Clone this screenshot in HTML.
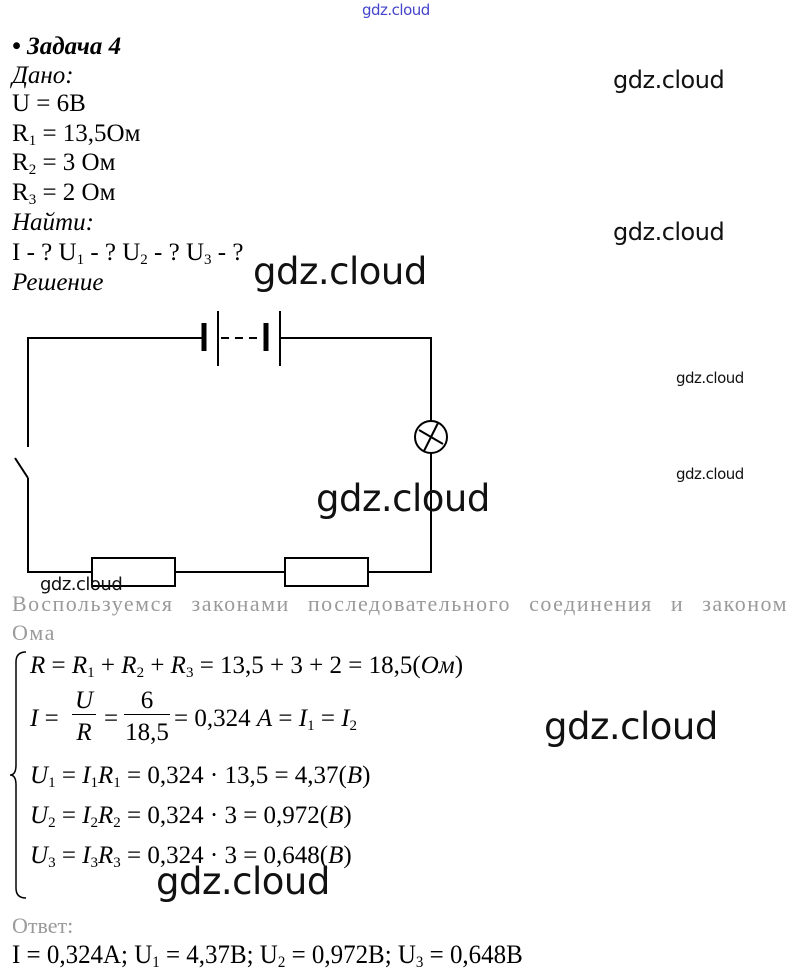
<!DOCTYPE html>
<html><head><meta charset="utf-8"><style>
body{margin:0;width:800px;height:979px;background:#fff;position:relative;overflow:hidden;font-family:"Liberation Serif",serif;color:#000}
.t{position:absolute;white-space:nowrap;line-height:30px;font-size:25px}
.w{position:absolute;white-space:nowrap;font-family:"DejaVu Sans","Liberation Sans",sans-serif;color:#111;line-height:1;letter-spacing:-0.5px}
.f{position:absolute;white-space:nowrap;font-size:25px;line-height:30px;font-style:normal}
i{font-style:italic}
sub{font-size:60%;vertical-align:-4px}
.g{color:#9a9a9a}
</style></head><body>
<div class="w" style="left:362px;top:3px;font-size:15px;color:#4444cc">gdz.cloud</div>
<div class="t" style="left:12px;top:32px;font-weight:bold;font-style:italic">• Задача 4</div>
<div class="t" style="left:12px;top:61px;font-style:italic">Дано:</div>
<div class="t" style="left:12px;top:89px">U = 6В</div>
<div class="t" style="left:12px;top:119px">R<sub>1</sub> = 13,5Ом</div>
<div class="t" style="left:12px;top:148px">R<sub>2</sub> = 3 Ом</div>
<div class="t" style="left:12px;top:178px">R<sub>3</sub> = 2 Ом</div>
<div class="t" style="left:12px;top:208px;font-style:italic">Найти:</div>
<div class="t" style="left:12px;top:238px">I - ? U<sub>1</sub> - ? U<sub>2</sub> - ? U<sub>3</sub> - ?</div>
<div class="t" style="left:12px;top:268px;font-style:italic">Решение</div>

<svg style="position:absolute;left:0;top:0" width="800" height="979">
<g stroke="#000" stroke-width="2" fill="none">
<polyline points="205,338 28,338 28,447"/>
<line x1="15" y1="458" x2="28" y2="478"/>
<polyline points="28,478 28,572 92,572"/>
<line x1="175" y1="572" x2="285" y2="572"/>
<polyline points="368,572 431,572 431,453"/>
<polyline points="431,421 431,338 280,338"/>
<rect x="92" y="558" width="83" height="28"/>
<rect x="285" y="558" width="83" height="28"/>
<circle cx="431" cy="437" r="16"/>
<line x1="419" y1="430" x2="443" y2="444"/>
<line x1="438" y1="423" x2="424" y2="451"/>
<line x1="218" y1="311" x2="218" y2="366"/>
<line x1="280" y1="311" x2="280" y2="366"/>
<line x1="221" y1="338" x2="262" y2="338" stroke-dasharray="8,6"/>
<line x1="204" y1="323" x2="204" y2="351" stroke-width="5"/>
<line x1="266" y1="323" x2="266" y2="351" stroke-width="5"/>
<path d="M26,652 Q16,652 16,662 L16,765 Q16,775 10,775 Q16,775 16,785 L16,888 Q16,898 26,898" stroke-width="1.5"/>
</g></svg>

<div class="w" style="left:40px;top:576px;font-size:18px">gdz.cloud</div>
<div class="t g" style="left:12px;top:589px;width:776px;text-align:justify;text-align-last:justify;font-size:22px;letter-spacing:1.5px">Воспользуемся законами последовательного соединения и законом</div>
<div class="t g" style="left:12px;top:618px;font-size:22px;letter-spacing:1.5px">Ома</div>

<div class="f" style="left:30px;top:651px"><i>R</i> = <i>R</i><sub>1</sub> + <i>R</i><sub>2</sub> + <i>R</i><sub>3</sub> = 13,5 + 3 + 2 = 18,5(<i>Ом</i>)</div>
<div class="f" style="left:30px;top:704px"><i>I</i> =</div>
<div class="f" style="left:72px;top:688px;width:24px;text-align:center;border-bottom:1.5px solid #000;line-height:26px"><i>U</i></div>
<div class="f" style="left:72px;top:718px;width:24px;text-align:center"><i>R</i></div>
<div class="f" style="left:104px;top:704px">=</div>
<div class="f" style="left:124px;top:688px;width:46px;text-align:center;border-bottom:1.5px solid #000;line-height:26px">6</div>
<div class="f" style="left:124px;top:718px;width:46px;text-align:center">18,5</div>
<div class="f" style="left:174px;top:704px">= 0,324 <i>A</i> = <i>I</i><sub>1</sub> = <i>I</i><sub>2</sub></div>
<div class="f" style="left:30px;top:761px"><i>U</i><sub>1</sub> = <i>I</i><sub>1</sub><i>R</i><sub>1</sub> = 0,324 · 13,5 = 4,37(<i>B</i>)</div>
<div class="f" style="left:30px;top:801px"><i>U</i><sub>2</sub> = <i>I</i><sub>2</sub><i>R</i><sub>2</sub> = 0,324 · 3 = 0,972(<i>B</i>)</div>
<div class="f" style="left:30px;top:841px"><i>U</i><sub>3</sub> = <i>I</i><sub>3</sub><i>R</i><sub>3</sub> = 0,324 · 3 = 0,648(<i>B</i>)</div>

<div class="t g" style="left:12px;top:911px;font-size:22px">Ответ:</div>
<div class="t" style="left:12px;top:940px;font-size:26px;transform:scaleX(0.96);transform-origin:left">I = 0,324A; U<sub>1</sub> = 4,37В; U<sub>2</sub> = 0,972В; U<sub>3</sub> = 0,648В</div>

<div class="w" style="left:613px;top:68px;font-size:24px">gdz.cloud</div>
<div class="w" style="left:613px;top:220px;font-size:24px">gdz.cloud</div>
<div class="w" style="left:253px;top:253px;font-size:37px">gdz.cloud</div>
<div class="w" style="left:676px;top:371px;font-size:15px">gdz.cloud</div>
<div class="w" style="left:676px;top:467px;font-size:15px">gdz.cloud</div>
<div class="w" style="left:316px;top:480px;font-size:37px">gdz.cloud</div>
<div class="w" style="left:544px;top:708px;font-size:37px">gdz.cloud</div>
<div class="w" style="left:156px;top:863px;font-size:37px">gdz.cloud</div>
</body></html>
